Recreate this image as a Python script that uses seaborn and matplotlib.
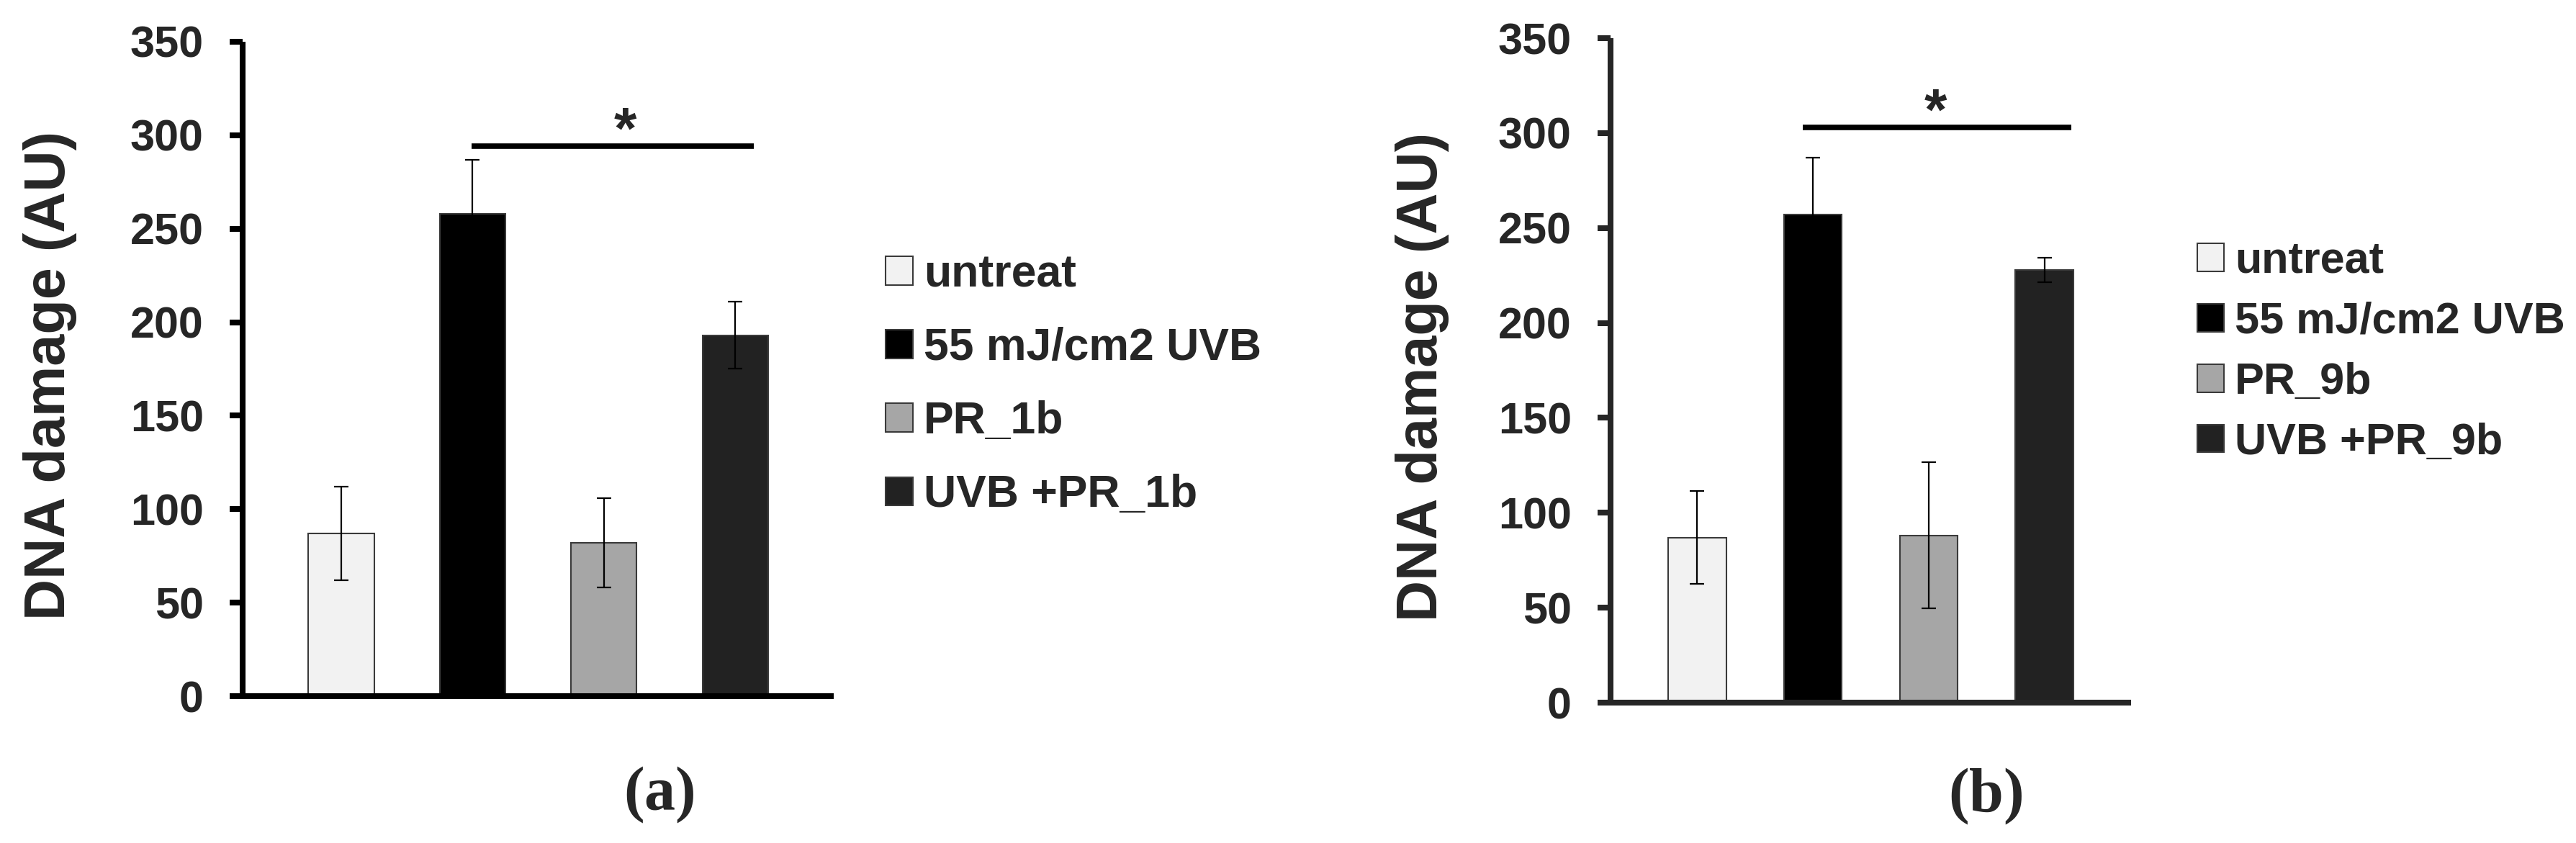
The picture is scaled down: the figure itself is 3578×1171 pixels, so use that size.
import numpy as np
import pandas as pd
import matplotlib
matplotlib.use("Agg")
import matplotlib.pyplot as plt
import seaborn as sns
from matplotlib.patches import Patch

# data
groups_a = ["untreat", "55 mJ/cm2 UVB", "PR_1b", "UVB +PR_1b"]
mean_a = [87, 258, 82, 193]
err_a = [25, 29, 24, 18]

groups_b = ["untreat", "55 mJ/cm2 UVB", "PR_9b", "UVB +PR_9b"]
mean_b = [87, 257, 88, 228]
err_b = [24.5, 30, 38.5, 6.5]

colors = ["#f2f2f2", "#000000", "#a6a6a6", "#222222"]
yticks = [0, 50, 100, 150, 200, 250, 300, 350]

sns.set_style("ticks")
plt.rcParams['font.family'] = ['Liberation Sans', 'DejaVu Sans']
plt.rcParams['font.weight'] = 'bold'
plt.rcParams['mathtext.fontset'] = 'custom'
plt.rcParams['mathtext.rm'] = 'Liberation Serif'
plt.rcParams['mathtext.bf'] = 'Liberation Serif:bold'

fig = plt.figure(figsize=(35.78, 11.71), dpi=100)


def panel(rect, groups, means, errs, spine_col, fs_leg, leg_anchor, labelspacing,
          sig, ylab_x, tag, tag_xy):
    ax = fig.add_axes(rect)
    df = pd.DataFrame({"group": groups, "value": means})
    sns.barplot(data=df, x="group", y="value", hue="group", palette=colors,
                width=0.5, edgecolor="#3a3a3a", linewidth=1.5, legend=False, ax=ax)
    ax.errorbar(range(len(groups)), means, yerr=errs, fmt='none', ecolor='black',
                elinewidth=1.6, capsize=7, capthick=1.6, zorder=5)
    ax.set_xlim(-0.75, 3.75)
    ax.set_ylim(0, 350)
    ax.set_yticks(yticks)
    ax.set_xticks([])
    ax.set_xlabel("")
    ax.set_ylabel("DNA damage (AU)", fontsize=57, fontweight='bold')
    ax.yaxis.set_label_coords(ylab_x, 0.49)
    for s in ["top", "right"]:
        ax.spines[s].set_visible(False)
    for s in ["left", "bottom"]:
        ax.spines[s].set_linewidth(5.8)
        ax.spines[s].set_color(spine_col)
        ax.spines[s].set_capstyle('butt')
    ax.tick_params(axis='y', direction='out', length=13, width=5.8, color=spine_col,
                   labelsize=44, pad=26)
    for lab in ax.get_yticklabels():
        lab.set_fontweight('bold')

    # significance bar
    x0, x1, yl, xs = sig
    ax.plot([x0, x1], [yl, yl], color='black', lw=5.5, solid_capstyle='butt', clip_on=False)
    ax.text(xs, yl - 1, "*", ha='center', va='baseline', fontsize=58, fontweight='bold')

    handles = [Patch(facecolor=c, edgecolor="#3a3a3a", linewidth=1.5) for c in colors]
    fig.legend(handles, groups, loc='upper left', bbox_to_anchor=leg_anchor,
               frameon=False, borderpad=0, borderaxespad=0,
               prop={'size': fs_leg, 'weight': 'bold'},
               handlelength=0.6, handleheight=0.6, handletextpad=0.25,
               labelspacing=labelspacing)

    fig.text(tag_xy[0], tag_xy[1], tag, ha='center', va='center', fontsize=62)
    return ax


panel([0.0942, 0.1742, 0.2295, 0.7763], groups_a, mean_a, err_a, "black",
      45, (0.3438, 0.6994), 0.69, (0.99, 3.14, 294, 2.16), -0.28,
      r"$(\mathbf{a})$", (0.2557, 0.0564))

panel([0.6252, 0.1665, 0.2021, 0.7882], groups_b, mean_b, err_b, "#262626",
      44, (0.853, 0.714), 0.44, (0.91, 3.23, 303, 2.06), -0.31,
      r"$(\mathbf{b})$", (0.7708, 0.0547))

fig.savefig("out.png", dpi=100)
